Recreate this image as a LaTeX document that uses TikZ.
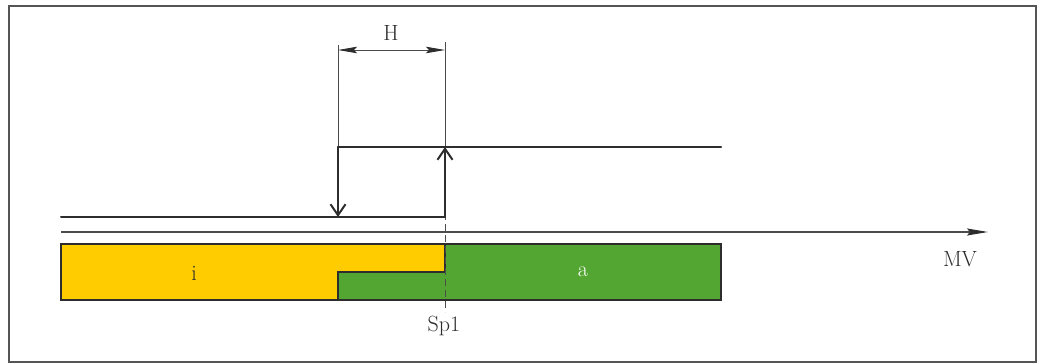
\documentclass[tikz,border=0pt]{standalone}
\usetikzlibrary{arrows.meta}
\definecolor{ehyellow}{RGB}{255,204,0}
\definecolor{ehgreen}{RGB}{84,166,50}
\definecolor{ink}{RGB}{45,45,45}
\definecolor{framegray}{RGB}{85,85,85}
\begin{document}
\begin{tikzpicture}[x=1pt,y=-1pt,
  lbl/.style={font=\fontsize{22}{26}\selectfont, text=ink, inner sep=0pt},
  stepline/.style={draw=ink, line width=2pt, line cap=round},
  barbtip/.style={-{Straight Barb[length=11pt,width=15pt,line width=2pt]}},
  extline/.style={draw=ink!85, line width=0.9pt},
  dimline/.style={draw=ink!85, line width=0.9pt, {Stealth[length=19pt,width=6.5pt,inset=3pt,color=ink]}-{Stealth[length=19pt,width=6.5pt,inset=3pt,color=ink]}},
  axisline/.style={draw=ink!85, line width=1.4pt, -{Stealth[length=21pt,width=7pt,inset=3pt,color=ink]}},
  barline/.style={draw=ink, line width=1.3pt},
  spline/.style={draw=ink!85, line width=0.9pt, dash pattern=on 7pt off 4pt}]
\useasboundingbox (0,0) rectangle (1043,363);
\draw[framegray, line width=2pt] (9,6) rectangle (1036,361.5);
% coordinates
\coordinate (lowL) at (61,217);
\coordinate (lowR) at (445,217);
\coordinate (upL) at (338,147);
\coordinate (upR) at (721,147);
\coordinate (upSp) at (445,147);
\coordinate (lowH) at (338,217);
\coordinate (extL) at (338,45);
\coordinate (extR) at (445,42);
\coordinate (dimL) at (338,50);
\coordinate (dimR) at (445,50);
\coordinate (axS) at (61,232);
\coordinate (axE) at (988,232);
\coordinate (spBot) at (445,312);
% bars
\fill[ehyellow] (61,244) -- (445,244) -- (445,272) -- (338,272) -- (338,300) -- (61,300) -- cycle;
\fill[ehgreen] (445,244) -- (721,244) -- (721,300) -- (338,300) -- (338,272) -- (445,272) -- cycle;
\draw[barline] (61,244) rectangle (721,300);
\draw[barline] (338,300) -- (338,272) -- (445,272) -- (445,244);
% axis
\draw[axisline] (axS) -- (axE);
% dimension
\draw[extline] (extL) -- (upL);
\draw[extline] (extR) -- (upSp);
\draw[dimline] (dimL) -- (dimR);
\draw[spline] (upSp) -- (spBot);
% step function
\draw[stepline] (lowL) -- (lowR);
\draw[stepline] (upL) -- (upR);
\draw[stepline, barbtip] (lowR) -- (upSp);
\draw[stepline, barbtip] (upL) -- (lowH);
% labels
\node[lbl] (h) at (391,33) {H};
\node[lbl] (i) at (194,273) {i};
\node[lbl, text=white] (a) at (583,272) {a};
\node[lbl] (sp) at (444,326) {Sp1};
\node[lbl] (mv) at (960,259) {MV};
\end{tikzpicture}
\end{document}
